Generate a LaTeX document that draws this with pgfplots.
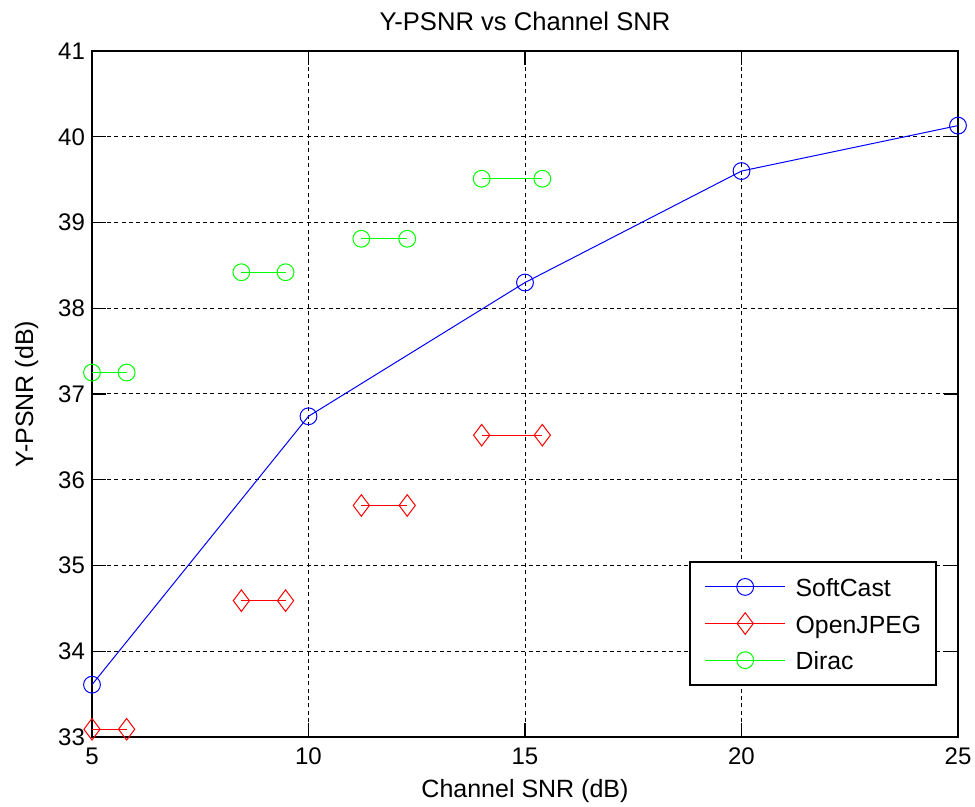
\documentclass[border=0pt]{standalone}
\usepackage{fontspec}
\setmainfont{Liberation Sans}
\usepackage{pgfplots}
\usepackage{pgfplotstable}
\pgfplotsset{compat=1.18}

\definecolor{mblue}{RGB}{0,0,255}
\definecolor{mred}{RGB}{255,0,0}
\definecolor{mgreen}{RGB}{0,255,0}

% SoftCast: Y-PSNR at each channel SNR
\pgfplotstableread{
snr   psnr
5     33.61
10    36.74
15    38.30
20    39.60
25    40.13
}\softcast

% OpenJPEG: one segment per operating point (nan breaks the line)
\pgfplotstableread{
snr   psnr
5     33.09
5.8   33.09
nan   nan
8.45  34.59
9.47  34.59
nan   nan
11.22 35.70
12.28 35.70
nan   nan
14.0  36.52
15.4  36.52
}\openjpeg

% Dirac: one segment per operating point
\pgfplotstableread{
snr   psnr
5     37.25
5.8   37.25
nan   nan
8.45  38.42
9.47  38.42
nan   nan
11.22 38.81
12.28 38.81
nan   nan
14.0  39.51
15.4  39.51
}\dirac

\begin{document}
\begin{tikzpicture}
\path[use as bounding box] (-46pt,-35pt) rectangle (441.5pt,368.5pt);
\begin{axis}[
  at={(0pt,0pt)}, anchor=south west,
  width=433pt, height=343pt, scale only axis,
  xmin=5, xmax=25, ymin=33, ymax=41,
  xtick={5,10,15,20,25}, ytick={33,34,...,41},
  /pgf/number format/assume math mode=true,
  tick label style={font=\fontsize{12}{14}\selectfont},
  xticklabel style={anchor=base, yshift=-14pt},
  grid=major,
  major grid style={black, line width=0.5pt, dash pattern=on 2pt off 1.7pt},
  axis line style={black, line width=0.6pt},
  tick align=inside, major tick length=7pt,
  tick style={black, line width=0.6pt},
  title={Y-PSNR vs Channel SNR},
  title style={font=\fontsize{12.8}{15}\selectfont, at={(axis description cs:0.5,1.0131)}, anchor=base},
  xlabel={Channel SNR (dB)},
  xlabel style={font=\fontsize{12.5}{15}\selectfont, at={(axis description cs:0.5,-0.0875)}, anchor=base},
  ylabel={Y-PSNR (dB)},
  ylabel style={font=\fontsize{12.5}{15}\selectfont, at={(axis description cs:-0.0681,0.5)}, anchor=base},
  unbounded coords=jump,
  legend style={at={(axis description cs:0.9758,0.0743)}, anchor=south east,
    draw=black, line width=0.9pt, fill=white,
    font=\fontsize{12.4}{14}\selectfont,
    inner xsep=7.5pt, inner ysep=6.5pt, row sep=6.3pt, column sep=5pt,
    nodes={inner xsep=0pt, inner ysep=0pt, text height=10.75pt, text depth=1.25pt}},
  legend cell align=left,
  legend image code/.code={
    \draw[mark repeat=2, mark phase=2] plot coordinates {(0pt,0pt) (20pt,0pt) (40pt,0pt)};
  },
  clip=false,
]
\addplot[mblue, line width=0.5pt, mark=o, mark size=4.2pt, mark options={solid, fill=none}]
  table[x=snr, y=psnr] {\softcast};
\addlegendentry{SoftCast}
\addplot[mred, line width=0.5pt, mark=diamond, mark size=5.4pt, mark options={solid, fill=none}]
  table[x=snr, y=psnr] {\openjpeg};
\addlegendentry{OpenJPEG}
\addplot[mgreen, line width=0.5pt, mark=o, mark size=4.2pt, mark options={solid, fill=none}]
  table[x=snr, y=psnr] {\dirac};
\addlegendentry{Dirac}
\end{axis}
\end{tikzpicture}
\end{document}
